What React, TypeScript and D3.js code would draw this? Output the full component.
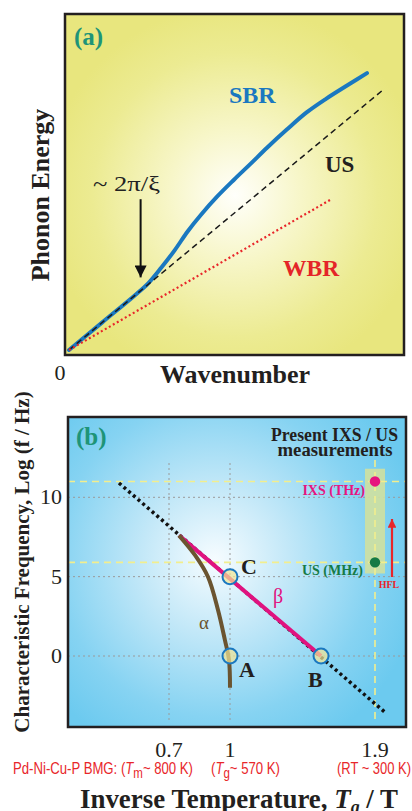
import React from "react";
import * as d3 from "d3";

// ---------- Panel (a) data (schematic dispersion) ----------
const sbrCurve: [number, number][] = [
  [0, 0], [1, 0.83], [2, 1.66], [2.4, 2.02], [2.8, 2.5], [3.2, 3.02], [3.6, 3.6],
  [4.0, 4.1], [4.5, 4.66], [5.0, 5.16], [5.5, 5.64], [6.0, 6.13], [6.6, 6.68],
  [7.2, 7.2], [7.8, 7.62], [8.4, 8.0], [9.03, 8.39],
];
const usLine: [number, number][] = [[0, 0], [9.55, 7.91]];
const wbrLine: [number, number][] = [[0, 0], [7.97, 4.58]];
const arrowA = { x: 2.17, yFrom: 4.57, yTo: 2.2 };

// ---------- Panel (b) data ----------
const yTicksB = [0, 5, 10];
const xTicksB = [0.7, 1, 1.9];
const blackDotted: [number, number][] = [[0.454, 10.9], [1.968, -3.6]];
const betaLine: [number, number][] = [[0.749, 7.6], [1.565, 0]];
const alphaCurve: [number, number][] = [
  [0.749, 7.6], [0.828, 6.35], [0.892, 4.98], [0.941, 2.9], [0.975, 1.0], [0.995, -0.25], [1.0, -2.0],
];
const points = [
  { name: "A", x: 1, y: 0 },
  { name: "B", x: 1.565, y: 0 },
  { name: "C", x: 1, y: 5 },
];
const ixsLevel = 11;
const usLevel = 5.9;
const rtX = 1.9;

const serif = "'Liberation Serif','Times New Roman',serif";
const sans = "'Liberation Sans',Arial,sans-serif";

export default function App() {
  // Panel (a) scales
  const xa = d3.scaleLinear().domain([0, 10]).range([69, 399]);
  const ya = d3.scaleLinear().domain([0, 10]).range([350, 20]);
  const lineA = d3.line<[number, number]>().x((d) => xa(d[0])).y((d) => ya(d[1]));
  const sbrPath = d3
    .line<[number, number]>()
    .x((d) => xa(d[0]))
    .y((d) => ya(d[1]))
    .curve(d3.curveCatmullRom)(sbrCurve) as string;

  // Panel (b) scales (schematic, piecewise)
  const xb = d3.scaleLinear().domain([0.7, 1, 1.9]).range([169, 230, 375]);
  const yb = d3.scaleLinear().domain([0, 10]).range([656, 497.3]);
  const lineB = d3.line<[number, number]>().x((d) => xb(d[0])).y((d) => yb(d[1]));
  const alphaPath = d3
    .line<[number, number]>()
    .x((d) => xb(d[0]))
    .y((d) => yb(d[1]))
    .curve(d3.curveCatmullRom)(alphaCurve) as string;

  const fA = { x0: 65, y0: 14, x1: 404, y1: 355 };
  const fB = { x0: 68, y0: 417, x1: 406, y1: 727 };

  const labelOffsets: Record<string, [number, number]> = {
    A: [9, 21],
    B: [-13, 31],
    C: [11, -3],
  };

  return (
    <svg
      width={412}
      height={811}
      style={{ position: "absolute", left: 0, top: 0, background: "#fff" }}
    >
      <defs>
        <radialGradient id="gA" gradientUnits="userSpaceOnUse" cx={235} cy={195} r={190}>
          <stop offset="0" stopColor="#fffffb" />
          <stop offset="0.35" stopColor="#f7f6c8" />
          <stop offset="0.75" stopColor="#eceb92" />
          <stop offset="1" stopColor="#e8e67e" />
        </radialGradient>
        <radialGradient id="gB" gradientUnits="userSpaceOnUse" cx={215} cy={560} r={210}>
          <stop offset="0" stopColor="#f6fcff" />
          <stop offset="0.35" stopColor="#c3e8f8" />
          <stop offset="0.75" stopColor="#86d3f2" />
          <stop offset="1" stopColor="#6ccaef" />
        </radialGradient>
        <marker id="arrK" viewBox="0 0 10 10" refX="10" refY="5" markerWidth="6" markerHeight="6" orient="auto" markerUnits="strokeWidth">
          <path d="M0,0 L10,5 L0,10 z" fill="#111" />
        </marker>
        <marker id="arrR" viewBox="0 0 10 10" refX="10" refY="5" markerWidth="4" markerHeight="4" orient="auto" markerUnits="strokeWidth">
          <path d="M0,0 L10,5 L0,10 z" fill="#e8262a" />
        </marker>
        <clipPath id="clipB">
          <rect x={fB.x0} y={fB.y0} width={fB.x1 - fB.x0} height={fB.y1 - fB.y0} />
        </clipPath>
      </defs>

      {/* ================= Panel (a) ================= */}
      <rect x={fA.x0} y={fA.y0} width={fA.x1 - fA.x0} height={fA.y1 - fA.y0} fill="url(#gA)" stroke="#231f20" strokeWidth={2.5} />
      <text x={74} y={45} fontFamily={serif} fontWeight="bold" fontSize={25} fill="#1e9478">(a)</text>

      <path d={sbrPath} fill="none" stroke="#1a78c0" strokeWidth={4} strokeLinecap="round" />
      <path d={lineA(usLine) as string} fill="none" stroke="#1a1a1a" strokeWidth={1.5} strokeDasharray="6 4" />
      <path d={lineA(wbrLine) as string} fill="none" stroke="#e8262a" strokeWidth={2.2} strokeDasharray="2 2.6" />

      <line x1={xa(arrowA.x)} x2={xa(arrowA.x)} y1={ya(arrowA.yFrom)} y2={ya(arrowA.yTo)} stroke="#111" strokeWidth={2} markerEnd="url(#arrK)" />
      <text x={93} y={191} fontFamily={serif} fontSize={22} fill="#222" textLength={67} lengthAdjust="spacingAndGlyphs">~ 2π/ξ</text>

      <text x={229} y={103} fontFamily={serif} fontWeight="bold" fontSize={24} fill="#1a78c0">SBR</text>
      <text x={325} y={172} fontFamily={serif} fontWeight="bold" fontSize={23} fill="#231f20">US</text>
      <text x={283} y={276} fontFamily={serif} fontWeight="bold" fontSize={23.5} fill="#e42528">WBR</text>

      <text transform="translate(49,195) rotate(-90)" textAnchor="middle" fontFamily={serif} fontWeight="bold" fontSize={26} fill="#231f20">Phonon Energy</text>
      <text x={60} y={380} textAnchor="middle" fontFamily={serif} fontSize={22} fill="#231f20">0</text>
      <text x={235} y={383} textAnchor="middle" fontFamily={serif} fontWeight="bold" fontSize={26} fill="#231f20">Wavenumber</text>

      {/* ================= Panel (b) ================= */}
      <rect x={fB.x0} y={fB.y0} width={fB.x1 - fB.x0} height={fB.y1 - fB.y0} fill="url(#gB)" />
      <g clipPath="url(#clipB)">
        {/* gray dotted grid */}
        {yTicksB.map((t) => (
          <line key={"gy" + t} x1={fB.x0} x2={fB.x1} y1={yb(t)} y2={yb(t)} stroke="#9a9a9a" strokeWidth={1} strokeDasharray="2 3" />
        ))}
        {xTicksB.filter((t) => t !== rtX).map((t) => (
          <line key={"gx" + t} x1={xb(t)} x2={xb(t)} y1={463} y2={722} stroke="#9a9a9a" strokeWidth={1} strokeDasharray="2 3" />
        ))}
        {/* measurement band */}
        <rect x={xb(rtX) - 10} y={yb(11.8)} width={20} height={yb(5.2) - yb(11.8)} fill="#cfe0a0" opacity={0.9} />
        {/* yellow dashed */}
        {[ixsLevel, usLevel].map((v) => (
          <line key={"yl" + v} x1={fB.x0} x2={fB.x1} y1={yb(v)} y2={yb(v)} stroke="#f2ee8e" strokeWidth={1.6} strokeDasharray="7 5" />
        ))}
        <line x1={xb(rtX)} x2={xb(rtX)} y1={460} y2={722} stroke="#f2ee8e" strokeWidth={1.6} strokeDasharray="7 5" />

        {/* curves */}
        <path d={lineB(blackDotted) as string} fill="none" stroke="#111" strokeWidth={3.5} strokeDasharray="3 3.2" />
        <path d={lineB(betaLine) as string} fill="none" stroke="#e0127f" strokeWidth={4} />
        <path d={alphaPath} fill="none" stroke="#6b5430" strokeWidth={4} />

        {points.map((p) => (
          <circle key={p.name} cx={xb(p.x)} cy={yb(p.y)} r={7.5} fill="rgba(240,228,150,0.72)" stroke="#1a78c0" strokeWidth={2} />
        ))}
        {points.map((p) => (
          <text key={"l" + p.name} x={xb(p.x) + labelOffsets[p.name][0]} y={yb(p.y) + labelOffsets[p.name][1]} fontFamily={serif} fontWeight="bold" fontSize={22} fill="#231f20">{p.name}</text>
        ))}
        <text x={273} y={603} fontFamily={serif} fontSize={20} fill="#e0127f">β</text>
        <text x={199} y={629} fontFamily={serif} fontSize={19} fill="#6b5430">α</text>

        {/* measurement dots */}
        <circle cx={xb(rtX)} cy={yb(ixsLevel)} r={5.2} fill="#e6147f" />
        <circle cx={xb(rtX)} cy={yb(usLevel)} r={5.2} fill="#167a45" />
        <text x={365} y={495} textAnchor="end" fontFamily={serif} fontWeight="bold" fontSize={14} fill="#e6147f">IXS (THz)</text>
        <text x={363} y={575} textAnchor="end" fontFamily={serif} fontWeight="bold" fontSize={14} fill="#167a45">US (MHz)</text>

        {/* HFL arrow */}
        <line x1={392} x2={392} y1={577} y2={519} stroke="#e8262a" strokeWidth={2.2} markerEnd="url(#arrR)" />
        <text x={389} y={588} textAnchor="middle" fontFamily={serif} fontWeight="bold" fontSize={10} fill="#e8262a">HFL</text>

        <text x={398} y={441} textAnchor="end" fontFamily={serif} fontWeight="bold" fontSize={18} fill="#231f20" textLength={127} lengthAdjust="spacingAndGlyphs">Present IXS / US</text>
        <text x={335} y={456} textAnchor="middle" fontFamily={serif} fontWeight="bold" fontSize={18} fill="#231f20" textLength={115} lengthAdjust="spacingAndGlyphs">measurements</text>
        <text x={76} y={445} fontFamily={serif} fontWeight="bold" fontSize={25} fill="#1e9478">(b)</text>
      </g>
      <rect x={fB.x0} y={fB.y0} width={fB.x1 - fB.x0} height={fB.y1 - fB.y0} fill="none" stroke="#231f20" strokeWidth={2.5} />

      {/* y ticks */}
      {yTicksB.map((t) => (
        <text key={"yt" + t} x={62} y={yb(t) + 7} textAnchor="end" fontFamily={serif} fontSize={22} fill="#231f20">{t}</text>
      ))}
      {/* x ticks */}
      {xTicksB.map((t) => (
        <text key={"xt" + t} x={xb(t)} y={757} textAnchor="middle" fontFamily={serif} fontSize={22} fill="#231f20">{t}</text>
      ))}
      {/* red sublabels */}
      <text x={13} y={774} fontFamily={sans} fontSize={16} fill="#e8262a" textLength={180} lengthAdjust="spacingAndGlyphs">
        Pd-Ni-Cu-P BMG: (<tspan fontStyle="italic">T</tspan><tspan dy={4} fontSize={14}>m</tspan><tspan dy={-4}>~ 800 K)</tspan>
      </text>
      <text x={211} y={774} fontFamily={sans} fontSize={16} fill="#e8262a" textLength={69} lengthAdjust="spacingAndGlyphs">
        (<tspan fontStyle="italic">T</tspan><tspan dy={4} fontSize={14}>g</tspan><tspan dy={-4}>~ 570 K)</tspan>
      </text>
      <text x={337} y={774} fontFamily={sans} fontSize={16} fill="#e8262a" textLength={74} lengthAdjust="spacingAndGlyphs">(RT ~ 300 K)</text>

      <text x={80} y={808} fontFamily={serif} fontWeight="bold" fontSize={27} fill="#231f20" textLength={318} lengthAdjust="spacingAndGlyphs">
        Inverse Temperature, <tspan fontStyle="italic">T</tspan><tspan dy={5} fontSize={18} fontStyle="italic">g</tspan><tspan dy={-5}> / T</tspan>
      </text>

      <text transform="translate(29,562) rotate(-90)" textAnchor="middle" fontFamily={serif} fontWeight="bold" fontSize={21} fill="#231f20">Characteristic Frequency, Log (f / Hz)</text>
    </svg>
  );
}
